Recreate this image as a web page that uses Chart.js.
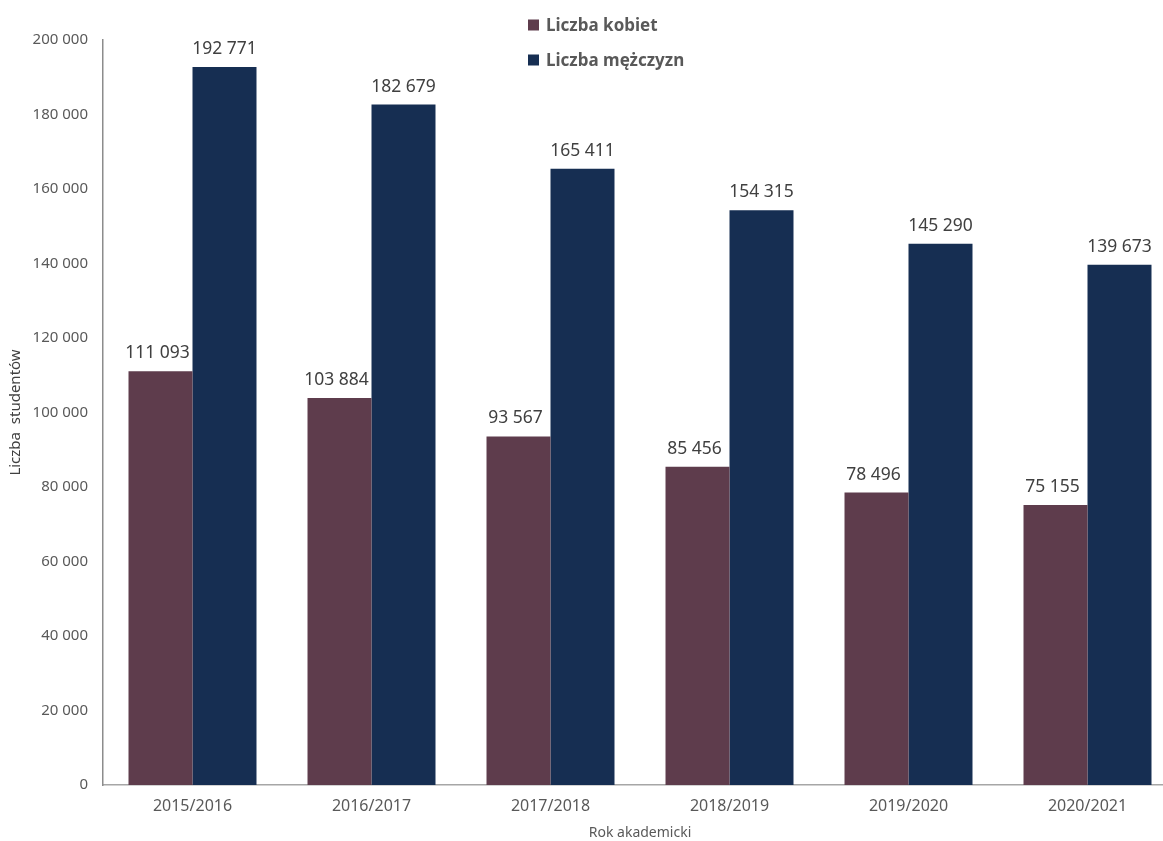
<!DOCTYPE html>
<html lang="pl">
<head>
<meta charset="utf-8">
<title>Liczba studentów</title>
<script src="https://cdn.jsdelivr.net/npm/chart.js@4.4.1/dist/chart.umd.min.js"></script>
<style>
  html, body { margin: 0; padding: 0; background: #fff; overflow: hidden; }
  /* obszar wykresu wychodzi nieco poza prawą krawędź strony */
  #wrap { width: 1177px; height: 841px; position: relative; }
</style>
</head>
<body>
<div id="wrap"><canvas id="chart"></canvas></div>
<script>
// lata akademickie i liczba studentów
const lata = ["2015/2016", "2016/2017", "2017/2018", "2018/2019", "2019/2020", "2020/2021"];
const kobiety = [111093, 103884, 93567, 85456, 78496, 75155];
const mezczyzni = [192771, 182679, 165411, 154315, 145290, 139673];
const etykietySerii = ["Liczba kobiet", "Liczba mężczyzn"];

const FONT = "'Noto Sans', sans-serif";
const KOLOR_K = "#5e3c4c";
const KOLOR_M = "#162e52";

// 192771 -> "192 771"
function fmt(v) {
    return String(v).replace(/\B(?=(\d{3})+(?!\d))/g, " ");
}

// wartości nad słupkami
const etykietyWartosci = {
    id: "etykietyWartosci",
    afterDatasetsDraw(chart) {
        const ctx = chart.ctx;
        ctx.save();
        ctx.font = "17.5px " + FONT;
        ctx.fillStyle = "#404040";
        ctx.textAlign = "center";
        ctx.textBaseline = "alphabetic";
        chart.data.datasets.forEach((ds, i) => {
            chart.getDatasetMeta(i).data.forEach((bar, j) => {
                ctx.fillText(fmt(ds.data[j]), bar.x - (i === 0 ? 3 : 0), bar.y - 13);
            });
        });
        ctx.restore();
    }
};

// legenda w dwóch wierszach u góry
const legendaPionowa = {
    id: "legendaPionowa",
    afterDraw(chart) {
        const ctx = chart.ctx;
        ctx.save();
        ctx.font = "bold 17px " + FONT;
        ctx.textBaseline = "middle";
        chart.data.datasets.forEach((ds, i) => {
            const y = 25 + i * 35;
            ctx.fillStyle = ds.backgroundColor;
            ctx.fillRect(528, y - 5.5, 11, 11);
            ctx.fillStyle = "#595959";
            ctx.fillText(ds.label, 546, y + 1);
        });
        ctx.restore();
    }
};

new Chart(document.getElementById("chart"), {
    type: "bar",
    data: {
        labels: lata,
        datasets: [
            { label: etykietySerii[0], data: kobiety, backgroundColor: KOLOR_K },
            { label: etykietySerii[1], data: mezczyzni, backgroundColor: KOLOR_M }
        ]
    },
    options: {
        responsive: true,
        maintainAspectRatio: false,
        animation: false,
        datasets: { bar: { categoryPercentage: 0.715, barPercentage: 1 } },
        layout: { padding: { top: 40, right: 0, bottom: 0, left: 0 } },
        plugins: {
            legend: { display: false },
            tooltip: { enabled: false }
        },
        scales: {
            x: {
                grid: { display: false, drawTicks: false },
                border: { display: true, color: "#a6a6a6", width: 1.5 },
                ticks: { color: "#595959", font: { family: FONT, size: 16 }, padding: 12 },
                title: {
                    display: true,
                    text: "Rok akademicki",
                    color: "#595959",
                    font: { family: FONT, size: 14 },
                    padding: { top: 0, bottom: 0 }
                },
                afterFit(scale) { scale.height = 56; }
            },
            y: {
                min: 0,
                max: 200000,
                grid: { display: false, drawTicks: false },
                border: { display: true, color: "#8c8c8c", width: 1.5 },
                ticks: {
                    stepSize: 20000,
                    color: "#595959",
                    font: { family: FONT, size: 15 },
                    padding: 15,
                    callback: v => fmt(v)
                },
                title: {
                    display: true,
                    text: "Liczba  studentów",
                    color: "#404040",
                    font: { family: FONT, size: 15 },
                    padding: { top: 7, bottom: 0 }
                },
                afterFit(scale) { scale.width = 103; }
            }
        }
    },
    plugins: [etykietyWartosci, legendaPionowa]
});
</script>
</body>
</html>
